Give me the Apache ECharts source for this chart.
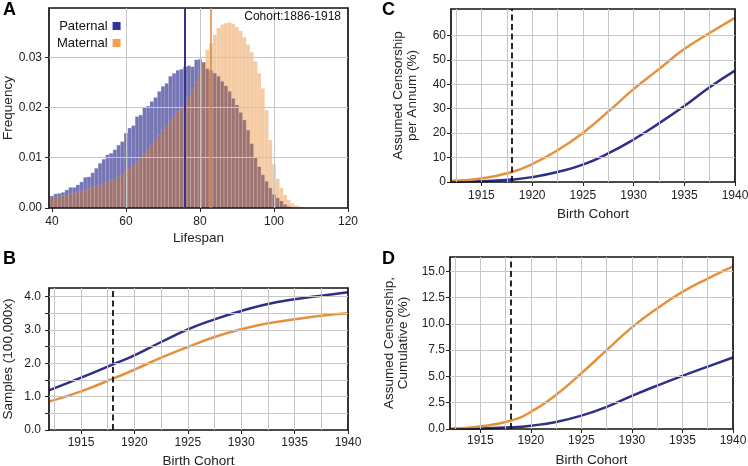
<!DOCTYPE html>
<html><head><meta charset="utf-8">
<script src="https://cdn.jsdelivr.net/npm/echarts@6/dist/echarts.min.js"></script>
<style>html,body{margin:0;padding:0;background:#fff}#c{width:748px;height:466px}</style>
</head><body><div id="c"></div>
<script>
// ---------- Panel A data ----------
const lifespanBins = [40,41,42,43,44,45,46,47,48,49,50,51,52,53,54,55,56,57,58,59,60,61,62,63,64,65,66,67,68,69,70,71,72,73,74,75,76,77,78,79,80,81,82,83,84,85,86,87,88,89,90,91,92,93,94,95,96,97,98,99,100,101,102,103,104,105,106,107,108];
const paternalFreq = [0.0024,0.0028,0.0029,0.0031,0.0036,0.0041,0.0041,0.0046,0.0052,0.0061,0.0062,0.0070,0.0079,0.0089,0.0097,0.0106,0.0109,0.0116,0.0125,0.0132,0.0149,0.0159,0.0164,0.0182,0.0185,0.0201,0.0203,0.0212,0.0220,0.0232,0.0242,0.0248,0.0262,0.0268,0.0274,0.0276,0.0281,0.0283,0.0281,0.0295,0.0296,0.0290,0.0277,0.0274,0.0268,0.0262,0.0252,0.0243,0.0232,0.0218,0.0205,0.0190,0.0175,0.0155,0.0128,0.0100,0.0082,0.0066,0.0053,0.0040,0.0027,0.0020,0.0014,0.0007,0.0003,0.0001,0,0,0];
const maternalFreq = [0.0021,0.0022,0.0023,0.0025,0.0026,0.0028,0.0030,0.0032,0.0034,0.0036,0.0039,0.0041,0.0043,0.0046,0.0049,0.0052,0.0055,0.0058,0.0062,0.0067,0.0072,0.0079,0.0085,0.0093,0.0100,0.0108,0.0116,0.0125,0.0135,0.0145,0.0155,0.0163,0.0173,0.0182,0.0192,0.0201,0.0212,0.0223,0.0236,0.0250,0.0268,0.0290,0.0315,0.0328,0.0345,0.0358,0.0365,0.0368,0.0369,0.0366,0.0360,0.0352,0.0340,0.0325,0.0310,0.0292,0.0268,0.0238,0.0195,0.0135,0.0088,0.0058,0.0040,0.0026,0.0016,0.0009,0.0005,0.0003,0.0001];
const paternalMean = 76;
const maternalMean = 83;
const cohortLabel = 'Cohort:1886-1918';
const lifespanTicks = [40,60,80,100,120];
const freqTicks = [0,0.01,0.02,0.03];

// ---------- Panels B, C, D data ----------
const cohortYears = [1912,1915,1918,1920,1922.5,1925,1927.5,1930,1932.5,1935,1937.5,1940];
const samplesPaternal = [1.19,1.57,1.97,2.24,2.64,3.02,3.32,3.57,3.78,3.92,4.03,4.13];
const samplesMaternal = [0.85,1.16,1.54,1.81,2.17,2.49,2.79,3.02,3.20,3.32,3.43,3.50];
const annualPaternal = [0.1,0.3,1.0,2.0,4.1,7.1,11.7,17.4,24.0,31.1,38.8,45.6];
const annualMaternal = [0.5,1.4,4.1,7.3,13.0,20.1,28.8,38.0,46.2,54.4,61.0,67.2];
const cumulPaternal = [0.0,0.05,0.16,0.32,0.67,1.27,2.1,3.15,4.13,5.05,5.93,6.8];
const cumulMaternal = [0.03,0.25,0.79,1.62,3.25,5.3,7.5,9.66,11.46,13.03,14.3,15.46];
const cohortCutoff = 1918;
const cohortTickLabels = [1915,1920,1925,1930,1935,1940];
const cohortGridLines = [1912.5,1915,1917.5,1920,1922.5,1925,1927.5,1930,1932.5,1935,1937.5];
const samplesTickLabels = [0,1,2,3,4];
const samplesGridLines = [0,0.5,1,1.5,2,2.5,3,3.5,4];
const annualTickLabels = [0,10,20,30,40,50,60];
const cumulTickLabels = [0,2.5,5,7.5,10,12.5,15];

// ---------- styles ----------
const FONT = '"Liberation Sans", Arial, sans-serif';
const NAVY = '#2f2f88';
const ORANGE = '#e5913c';
const GRIDC = '#c6c6c6';
const TXT = '#222';

function xy(xs, ys){ return xs.map((x,i)=>[x, ys[i]]); }

function histItem(fill){
  return function(params, api){
    const x = api.value(0), y = api.value(1);
    const a = api.coord([x - 0.5, y]);
    const b = api.coord([x + 0.5, 0]);
    return {type:'rect', shape:{x:a[0], y:a[1], width:b[0]-a[0], height:b[1]-a[1]},
      style:{fill:fill, stroke:'rgba(255,255,255,0.22)', lineWidth:0.5}};
  };
}

function gridDef(l,t,w,h){
  return {left:l, top:t, width:w, height:h, show:true, borderColor:'#111', borderWidth:1.7,
          backgroundColor:'transparent', z:5, containLabel:false, outerBoundsMode:'none'};
}

function axisDef(o){
  return Object.assign({
    type:'value',
    axisLine:{show:false},
    axisTick:{show:true, length:4, lineStyle:{color:'#222', width:1}, customValues:o.tickVals},
    axisLabel:{customValues:o.labelVals, color:TXT, fontFamily:FONT, fontSize:12, margin:o.margin,
               formatter:o.fmt},
    splitLine:{show:false},
    nameLocation:'middle', nameGap:o.nameGap, nameMoveOverlap:false,
    nameTextStyle:{color:TXT, fontFamily:FONT, fontSize:13.5, lineHeight:14}
  }, o.extra);
}

function gridLines(idx, xs, ys){
  return {name:'grid' + idx, type:'line', xAxisIndex:idx, yAxisIndex:idx, z:1, data:[], silent:true,
    markLine:{silent:true, symbol:'none', label:{show:false}, animation:false,
      lineStyle:{color:GRIDC, width:1, type:'solid'},
      emphasis:{disabled:true},
      data: xs.map(v=>({xAxis:v})).concat(ys.map(v=>({yAxis:v})))}};
}

const lineBase = {type:'line', smooth:0.5, showSymbol:false, z:3};

const option = {
  animation:false,
  backgroundColor:'#fff',
  grid:[
    gridDef(49, 8, 299, 200),
    gridDef(49, 288, 299, 142),
    gridDef(451, 9, 284, 173),
    gridDef(450, 257, 283, 172)
  ],
  xAxis:[
    axisDef({tickVals:lifespanTicks, labelVals:lifespanTicks, margin:8, nameGap:23,
      fmt:v=>String(v), extra:{gridIndex:0, min:39.2, max:120, name:'Lifespan'}}),
    axisDef({tickVals:cohortTickLabels, labelVals:cohortTickLabels, margin:7, nameGap:24,
      fmt:v=>String(v), extra:{gridIndex:1, min:1912, max:1940, name:'Birth Cohort'}}),
    axisDef({tickVals:cohortTickLabels, labelVals:cohortTickLabels, margin:8, nameGap:25,
      fmt:v=>String(v), extra:{gridIndex:2, min:1912, max:1940, name:'Birth Cohort'}}),
    axisDef({tickVals:cohortTickLabels, labelVals:cohortTickLabels, margin:6, nameGap:24,
      fmt:v=>String(v), extra:{gridIndex:3, min:1912, max:1940, name:'Birth Cohort'}})
  ],
  yAxis:[
    axisDef({tickVals:freqTicks, labelVals:freqTicks, margin:7, nameGap:34,
      fmt:v=>v.toFixed(2), extra:{gridIndex:0, min:0, max:0.0398, name:'Frequency'}}),
    axisDef({tickVals:samplesGridLines, labelVals:samplesTickLabels, margin:8, nameGap:34,
      fmt:v=>v.toFixed(1), extra:{gridIndex:1, min:0, max:4.26, name:'Samples (100,000x)'}}),
    axisDef({tickVals:annualTickLabels, labelVals:annualTickLabels, margin:5, nameGap:32,
      fmt:v=>String(v), extra:{gridIndex:2, min:0, max:70.8, name:'Assumed Censorship\nper Annum (%)'}}),
    axisDef({tickVals:cumulTickLabels, labelVals:cumulTickLabels, margin:5, nameGap:40,
      fmt:v=>v.toFixed(1), extra:{gridIndex:3, min:0, max:16.35, name:'Assumed Censorship,\nCumulative (%)'}})
  ],
  legend:{
    orient:'vertical', left:57, top:19, align:'right', padding:0,
    itemWidth:8, itemHeight:8, itemGap:3,
    textStyle:{fontSize:13, fontFamily:FONT, color:'#111', lineHeight:14},
    data:[{name:'Paternal', icon:'rect', itemStyle:{color:'#30349a'}},
          {name:'Maternal', icon:'rect', itemStyle:{color:'#f0a04c'}}]
  },
  graphic:[
    {type:'text', x:3, y:1, style:{text:'A', font:'bold 18px ' + FONT, fill:'#000'}},
    {type:'text', x:3, y:250, style:{text:'B', font:'bold 18px ' + FONT, fill:'#000'}},
    {type:'text', x:382, y:1, style:{text:'C', font:'bold 18px ' + FONT, fill:'#000'}},
    {type:'text', x:382, y:250, style:{text:'D', font:'bold 18px ' + FONT, fill:'#000'}},
    {type:'text', x:341, y:17, z:10, style:{text:cohortLabel, font:'12px ' + FONT, fill:'#111', align:'right', verticalAlign:'middle'}}
  ],
  series:[
    gridLines(0, [60,80,100], [0.01,0.02,0.03]),
    gridLines(1, cohortGridLines, samplesGridLines.slice(1)),
    gridLines(2, cohortGridLines, annualTickLabels.slice(1)),
    gridLines(3, cohortGridLines, cumulTickLabels.slice(1)),

    {name:'Paternal', type:'custom', xAxisIndex:0, yAxisIndex:0, z:2,
     itemStyle:{color:'#30349a'},
     renderItem:histItem('rgba(58,58,150,0.70)'), encode:{x:0, y:1},
     data:xy(lifespanBins, paternalFreq)},
    {name:'Maternal', type:'custom', xAxisIndex:0, yAxisIndex:0, z:3,
     itemStyle:{color:'#f0a04c'},
     renderItem:histItem('rgba(226,112,0,0.36)'), encode:{x:0, y:1},
     data:xy(lifespanBins, maternalFreq)},
    {name:'meanLines', type:'line', xAxisIndex:0, yAxisIndex:0, z:4, data:[],
     markLine:{silent:true, symbol:'none', label:{show:false}, animation:false,
       data:[{xAxis:paternalMean, lineStyle:{color:'#34348e', width:2, type:'solid'}},
             {xAxis:maternalMean, lineStyle:{color:'#e0843a', width:1.5, type:'solid'}}]}},

    Object.assign({name:'Paternal samples', xAxisIndex:1, yAxisIndex:1,
     lineStyle:{color:NAVY, width:2.5}, itemStyle:{color:NAVY},
     data:xy(cohortYears, samplesPaternal),
     markLine:{silent:true, symbol:'none', label:{show:false},
       lineStyle:{color:'#111', width:1.8, type:[6,3.5]}, data:[{xAxis:cohortCutoff}]}}, lineBase),
    Object.assign({name:'Maternal samples', xAxisIndex:1, yAxisIndex:1,
     lineStyle:{color:ORANGE, width:2.5}, itemStyle:{color:ORANGE},
     data:xy(cohortYears, samplesMaternal)}, lineBase),

    Object.assign({name:'Paternal annual', xAxisIndex:2, yAxisIndex:2,
     lineStyle:{color:NAVY, width:2.5}, itemStyle:{color:NAVY},
     data:xy(cohortYears, annualPaternal),
     markLine:{silent:true, symbol:'none', label:{show:false},
       lineStyle:{color:'#111', width:1.8, type:[6,3.5]}, data:[{xAxis:cohortCutoff}]}}, lineBase),
    Object.assign({name:'Maternal annual', xAxisIndex:2, yAxisIndex:2,
     lineStyle:{color:ORANGE, width:2.5}, itemStyle:{color:ORANGE},
     data:xy(cohortYears, annualMaternal)}, lineBase),

    Object.assign({name:'Paternal cumulative', xAxisIndex:3, yAxisIndex:3,
     lineStyle:{color:NAVY, width:2.5}, itemStyle:{color:NAVY},
     data:xy(cohortYears, cumulPaternal),
     markLine:{silent:true, symbol:'none', label:{show:false},
       lineStyle:{color:'#111', width:1.8, type:[6,3.5]}, data:[{xAxis:cohortCutoff}]}}, lineBase),
    Object.assign({name:'Maternal cumulative', xAxisIndex:3, yAxisIndex:3,
     lineStyle:{color:ORANGE, width:2.5}, itemStyle:{color:ORANGE},
     data:xy(cohortYears, cumulMaternal)}, lineBase)
  ]
};

const chart = echarts.init(document.getElementById('c'), null, {renderer:'canvas', width:748, height:466});
chart.setOption(option);
</script>
</body></html>
